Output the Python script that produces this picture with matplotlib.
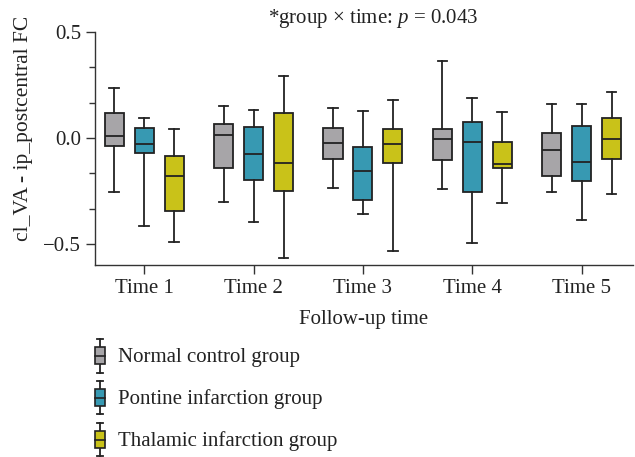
import matplotlib
matplotlib.use("Agg")
import matplotlib.pyplot as plt
import numpy as np
from matplotlib.legend_handler import HandlerBase
from matplotlib.lines import Line2D
from matplotlib.patches import Rectangle, Patch
from matplotlib.ticker import MultipleLocator

plt.rcParams['font.family'] = ['Liberation Serif', 'DejaVu Serif']
plt.rcParams['mathtext.fontset'] = 'custom'
plt.rcParams['mathtext.rm'] = 'Liberation Serif'
plt.rcParams['mathtext.it'] = 'Liberation Serif:italic'

# ---- data ----
times = ["Time 1", "Time 2", "Time 3", "Time 4", "Time 5"]
groups = ["Normal control group", "Pontine infarction group", "Thalamic infarction group"]
colors = ["#a7a5a8", "#3799b2", "#c9c219"]

# per group: lists over times of (whislo, q1, med, q3, whishi)
normal_lo  = [-0.256, -0.303, -0.235, -0.240, -0.257]
normal_q1  = [-0.036, -0.144, -0.099, -0.106, -0.180]
normal_med = [0.009, 0.013, -0.025, -0.006, -0.058]
normal_q3  = [0.117, 0.068, 0.049, 0.043, 0.022]
normal_hi  = [0.237, 0.150, 0.139, 0.361, 0.162]

pontine_lo  = [-0.415, -0.399, -0.358, -0.495, -0.388]
pontine_q1  = [-0.071, -0.199, -0.293, -0.254, -0.202]
pontine_med = [-0.030, -0.076, -0.156, -0.017, -0.114]
pontine_q3  = [0.046, 0.050, -0.044, 0.077, 0.054]
pontine_hi  = [0.093, 0.132, 0.125, 0.188, 0.159]

thal_lo  = [-0.492, -0.568, -0.535, -0.309, -0.263]
thal_q1  = [-0.345, -0.249, -0.118, -0.144, -0.098]
thal_med = [-0.181, -0.118, -0.028, -0.121, -0.006]
thal_q3  = [-0.087, 0.117, 0.044, -0.019, 0.096]
thal_hi  = [0.044, 0.293, 0.177, 0.121, 0.216]

group_data = [
    (normal_lo, normal_q1, normal_med, normal_q3, normal_hi),
    (pontine_lo, pontine_q1, pontine_med, pontine_q3, pontine_hi),
    (thal_lo, thal_q1, thal_med, thal_q3, thal_hi),
]

title_text = r"*group $\times$ time: $p$ = 0.043"
ylabel_text = "cl_VA - ip_postcentral FC"
xlabel_text = "Follow-up time"

# ---- figure ----
fig = plt.figure(figsize=(6.35, 4.57), dpi=100)
ax = fig.add_axes([95/635, 1-265/457, (633-95)/635, (265-32)/457])

edge = "#222222"
offsets = [-0.274, 0.0, 0.274]
width = 0.175
base = np.arange(len(times))

for gi, (lo, q1, med, q3, hi) in enumerate(group_data):
    stats = []
    for t in range(len(times)):
        stats.append(dict(whislo=lo[t], q1=q1[t], med=med[t], q3=q3[t],
                          whishi=hi[t], fliers=[]))
    ax.bxp(stats, positions=base + offsets[gi], widths=width,
           patch_artist=True, showfliers=False, manage_ticks=False,
           boxprops=dict(facecolor=colors[gi], edgecolor=edge, linewidth=1.3),
           medianprops=dict(color=edge, linewidth=1.3),
           whiskerprops=dict(color=edge, linewidth=1.3),
           capprops=dict(color=edge, linewidth=1.3),
           capwidths=width * 0.5)

ax.set_xlim(-0.45, 4.47)
ax.set_ylim(-0.6, 0.5)
ax.set_xticks(base)
ax.set_xticklabels(times)
ax.yaxis.set_minor_locator(MultipleLocator(0.5/3))
ax.set_yticks([-0.5, 0.0, 0.5])
ax.set_yticklabels(["\u22120.5", "0.0", "0.5"])

for s in ["top", "right"]:
    ax.spines[s].set_visible(False)
for s in ["left", "bottom"]:
    ax.spines[s].set_color("#333333")
    ax.spines[s].set_linewidth(1.0)

ax.tick_params(axis="both", which="major", length=6.5, width=1.0,
               color="#333333", labelsize=15, pad=3.5, labelcolor="#222222")
ax.tick_params(axis="y", which="minor", length=4, width=1.0, color="#333333")

ax.set_ylabel(ylabel_text, fontsize=15.5, color="#222222")
ax.yaxis.set_label_coords((33-95)/538, (265-128)/233)
ax.set_xlabel(xlabel_text, fontsize=15, color="#222222", labelpad=9)

fig.text(373/635, 1-18/457, title_text, ha="center", va="center",
         fontsize=15, color="#222222")


class BoxHandler(HandlerBase):
    def create_artists(self, legend, orig_handle, xdescent, ydescent,
                       width, height, fontsize, trans):
        cx = -xdescent + width / 2
        y0 = -ydescent
        bw = width
        bh = height * 0.52
        by = y0 + (height - bh) / 2
        arts = []
        arts.append(Line2D([cx, cx], [y0, y0 + height], color=edge, lw=1.3,
                           transform=trans))
        cw = bw * 0.55
        arts.append(Line2D([cx - cw/2, cx + cw/2], [y0, y0], color=edge,
                           lw=1.3, transform=trans))
        arts.append(Line2D([cx - cw/2, cx + cw/2], [y0 + height, y0 + height],
                           color=edge, lw=1.3, transform=trans))
        arts.append(Rectangle((cx - bw/2, by), bw, bh,
                              facecolor=orig_handle.get_facecolor(),
                              edgecolor=edge, lw=1.2, transform=trans))
        arts.append(Line2D([cx - bw/2, cx + bw/2], [by + bh/2, by + bh/2],
                           color=edge, lw=1.2, transform=trans))
        return arts


handles = [Patch(facecolor=c) for c in colors]
leg = fig.legend(handles, groups, loc="upper left",
                 bbox_to_anchor=(95/635, 1-339/457),
                 handler_map={Patch: BoxHandler()},
                 frameon=False, fontsize=15, handlelength=0.5,
                 handleheight=2.1, labelspacing=0.4, handletextpad=0.58,
                 borderaxespad=0, borderpad=0)
for t in leg.get_texts():
    t.set_color("#222222")

fig.savefig("out.png", dpi=100)
